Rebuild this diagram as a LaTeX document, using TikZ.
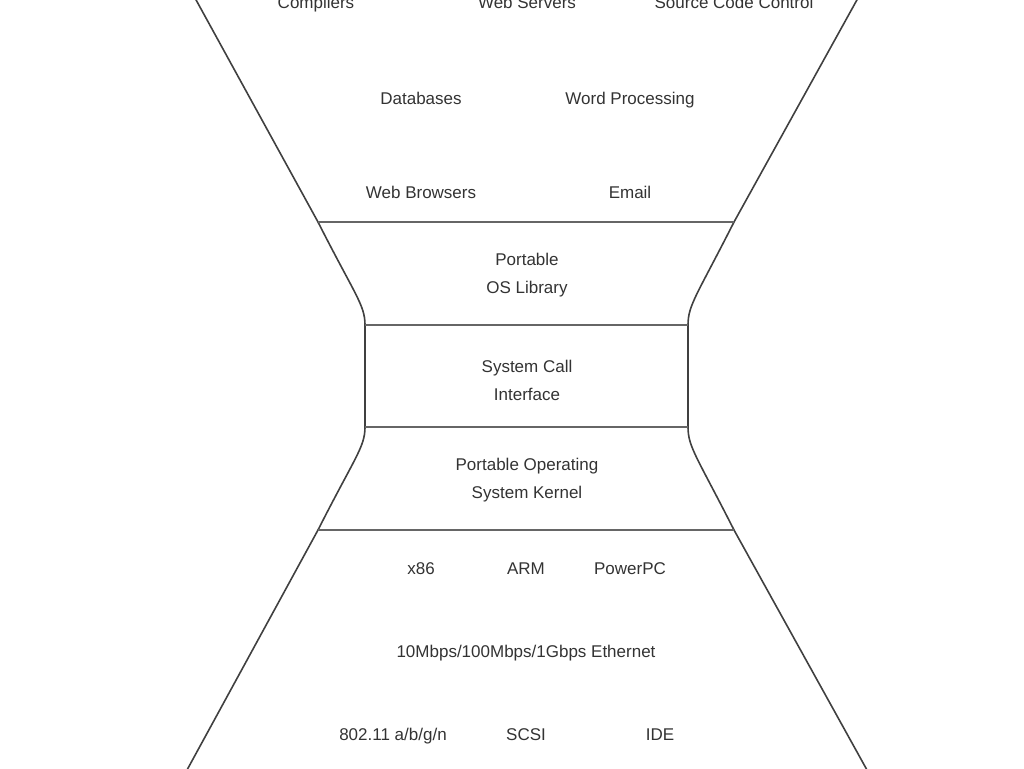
\documentclass[tikz,border=0pt]{standalone}
\usepackage{fontspec}
\setmainfont{Liberation Sans}
\begin{document}
\begin{tikzpicture}[x=1pt,y=-1pt,
  lbl/.style={inner sep=0pt, text=black!80, font=\fontsize{17}{28}\selectfont, align=center},
  edge/.style={draw=black!75, line width=1.6pt},
  sep/.style={draw=black!60, line width=1.8pt}]
\useasboundingbox (0,0) rectangle (1024,768);
% outline coordinates
\coordinate (tl) at (195,-2);
\coordinate (tr) at (858,-2);
\coordinate (a1) at (318,222);
\coordinate (a2) at (734,222);
\coordinate (b1) at (365,325);
\coordinate (b2) at (688,325);
\coordinate (c1) at (365,427);
\coordinate (c2) at (688,427);
\coordinate (d1) at (318,530);
\coordinate (d2) at (734,530);
\coordinate (bl) at (187,770);
\coordinate (br) at (867,770);
% sides
\draw[edge] (tl) -- (a1) .. controls (355,295) and (365,305) .. (b1) -- (c1)
  .. controls (365,447) and (355,457) .. (d1) -- (bl);
\draw[edge] (tr) -- (a2) .. controls (697,295) and (688,305) .. (b2) -- (c2)
  .. controls (688,447) and (697,457) .. (d2) -- (br);
% separators
\draw[sep] (a1) -- (a2);
\draw[sep] (b1) -- (b2);
\draw[sep] (c1) -- (c2);
\draw[sep] (d1) -- (d2);
% applications
\node[lbl, anchor=base] (comp) at (316,9) {Compilers};
\node[lbl, anchor=base] (web) at (527,9) {Web Servers};
\node[lbl, anchor=base] (scc) at (734,9) {Source Code Control};
\node[lbl, anchor=base] (db) at (421,104) {Databases};
\node[lbl, anchor=base] (wp) at (630,104) {Word Processing};
\node[lbl, anchor=base] (wb) at (421,198) {Web Browsers};
\node[lbl, anchor=base] (email) at (630,198) {Email};
% middle layers
\node[lbl] (lib) at (527,275) {Portable\\OS Library};
\node[lbl] (sci) at (527,380) {System Call\\Interface};
\node[lbl] (kern) at (527,480) {Portable Operating\\System Kernel};
% hardware
\node[lbl, anchor=base] (x86) at (421,574) {x86};
\node[lbl, anchor=base] (arm) at (526,574) {ARM};
\node[lbl, anchor=base] (ppc) at (630,574) {PowerPC};
\node[lbl, anchor=base] (eth) at (526,657) {10Mbps/100Mbps/1Gbps Ethernet};
\node[lbl, anchor=base] (wifi) at (393,740) {802.11 a/b/g/n};
\node[lbl, anchor=base] (scsi) at (526,740) {SCSI};
\node[lbl, anchor=base] (ide) at (660,740) {IDE};
\end{tikzpicture}
\end{document}
